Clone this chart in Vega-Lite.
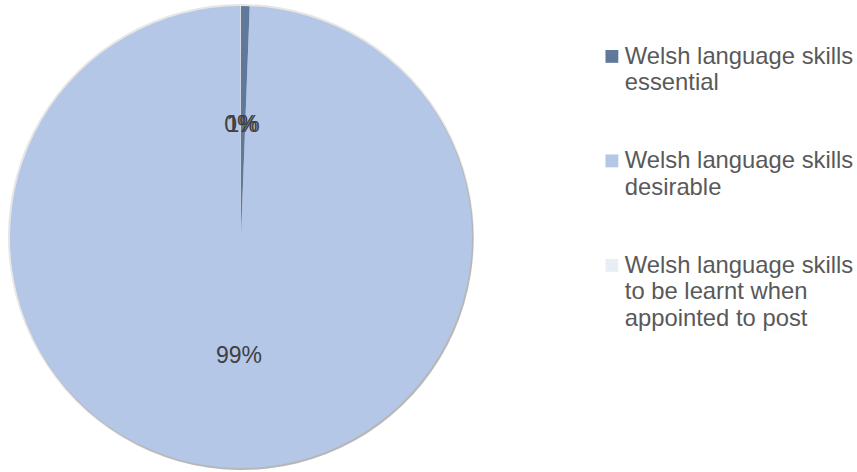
{
  "$schema": "https://vega.github.io/schema/vega-lite/v6.json",
  "width": 482,
  "height": 474,
  "padding": 0,
  "autosize": "pad",
  "background": "white",
  "config": {"view": {"stroke": null}, "font": "Liberation Sans"},
  "data": {
    "values": [
      {"category": "Welsh language skills essential", "value": 0.6, "label": "1%", "idx": 1},
      {"category": "Welsh language skills desirable", "value": 99.35, "label": "99%", "idx": 2},
      {"category": "Welsh language skills to be learnt when appointed to post", "value": 0.05, "label": "0%", "idx": 3}
    ]
  },
  "encoding": {
    "theta": {"field": "value", "type": "quantitative", "stack": true},
    "order": {"field": "idx", "type": "quantitative"}
  },
  "layer": [
    {
      "mark": {"type": "arc", "outerRadius": 233, "color": "#9a9a9a", "opacity": 0.25}
    },
    {
      "mark": {"type": "arc", "outerRadius": 231.5, "color": "#7f7f7f", "opacity": 0.45, "xOffset": 1, "yOffset": 1.5}
    },
    {
      "mark": {"type": "arc", "outerRadius": 231},
      "encoding": {
        "color": {
          "field": "category",
          "type": "nominal",
          "scale": {
            "domain": ["Welsh language skills essential", "Welsh language skills desirable", "Welsh language skills to be learnt when appointed to post"],
            "range": ["#60799A", "#B4C7E7", "#E9EEF6"]
          },
          "legend": {
            "orient": "none",
            "legendX": 600,
            "legendY": 44.5,
            "title": null,
            "padding": 0,
            "symbolType": "square",
            "symbolSize": 165,
            "symbolStrokeWidth": 0,
            "labelFont": "Liberation Sans",
            "labelFontSize": 23.8,
            "labelColor": "#595959",
            "labelLimit": 0,
            "labelOffset": 1,
            "labelBaseline": "alphabetic",
            "rowPadding": 53.5,
            "labelExpr": "split(replace(replace(datum.label, 'skills ', 'skills|'), 'when ', 'when|'), '|')",
            "encode": {
              "labels": {"update": {"dy": {"value": 7.2}, "lineHeight": {"value": 26.7}}}
            }
          }
        }
      }
    },
    {
      "mark": {"type": "text", "radius": 116, "dy": 3.5, "fontSize": 23, "font": "Liberation Sans", "color": "#404040"},
      "encoding": {
        "text": {"field": "label", "type": "nominal"}
      }
    }
  ]
}
